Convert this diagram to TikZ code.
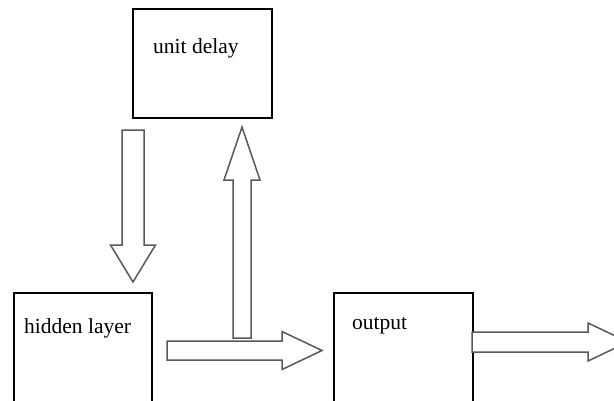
\documentclass[tikz,border=0pt]{standalone}
\usepackage{fontspec}
\setmainfont{Liberation Serif}
\usetikzlibrary{calc}
\tikzset{
  blockbox/.style={draw=black,line width=1.5pt,fill=white,minimum width=#1,anchor=north west,inner sep=0pt},
  boxtext/.style={anchor=base west,inner sep=0pt,font=\fontsize{21.5}{26}\selectfont},
  blockarrow/.style={draw=black!65,line width=1.5pt,fill=white,line join=miter}
}
% hollow block arrow: from, to, shaft half width, head half width, head length
\newcommand{\blockarrow}[5]{%
  \coordinate (hb) at ($(#2)!#5!(#1)$);
  \draw[blockarrow] ($(#1)!#3!90:(#2)$) -- ($(hb)!#3!-90:(#1)$) -- ($(hb)!#4!-90:(#1)$)
    -- (#2) -- ($(hb)!#4!90:(#1)$) -- ($(hb)!#3!90:(#1)$) -- ($(#1)!#3!-90:(#2)$) -- cycle;
}

\begin{document}
\begin{tikzpicture}[x=1pt,y=-1pt]
\useasboundingbox (0,0) rectangle (614,400);
\fill[white] (0,0) rectangle (614,400);
\clip (0,0) rectangle (614,400);

% boxes
\node[blockbox=139pt,minimum height=109pt] (delay) at (132,8) {};
\node[blockbox=138pt,minimum height=120pt] (hidden) at (13,292) {};
\node[blockbox=139pt,minimum height=120pt] (output) at (333,292) {};

\node[boxtext] (delaytxt) at (153,53) {unit delay};
\node[boxtext] (hiddentxt) at (24,333) {hidden layer};
\node[boxtext] (outputtxt) at (352,329) {output};

% arrow ends
\coordinate (downA) at (133,130);
\coordinate (downB) at (133,282);
\coordinate (upA) at (242,338);
\coordinate (upB) at (242,127);
\coordinate (rightA) at (167,350.5);
\coordinate (rightB) at (322,350.5);
\coordinate (outA) at (472,342);
\coordinate (outB) at (628,342);

\blockarrow{downA}{downB}{11pt}{22.5pt}{37pt}
\blockarrow{rightA}{rightB}{9.5pt}{19pt}{40pt}
\blockarrow{upA}{upB}{9pt}{18pt}{53pt}
\blockarrow{outA}{outB}{10pt}{19pt}{40pt}
\end{tikzpicture}
\end{document}
